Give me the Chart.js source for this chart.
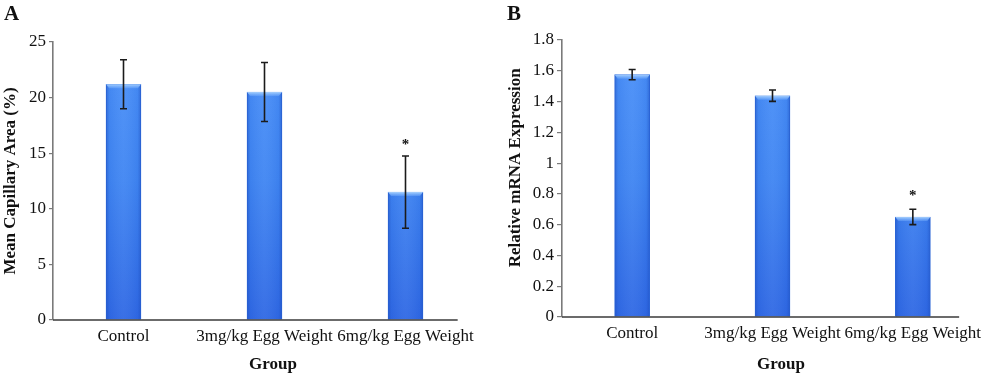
<!DOCTYPE html>
<html>
<head>
<meta charset="utf-8">
<script src="https://cdn.jsdelivr.net/npm/chart.js@4.4.0/dist/chart.umd.min.js"></script>
<style>
  html, body { margin: 0; padding: 0; background: #ffffff; }
  #wrap { position: relative; width: 1000px; height: 375px; overflow: hidden; background: #fff; }
  .panel { position: absolute; top: 0; height: 375px; }
  .letter { position: absolute; font-family: "Liberation Serif", serif; font-weight: bold; font-size: 21px; color: #111; }
</style>
</head>
<body>
<div id="wrap">
  <div class="panel" style="left:0;width:490px;"><canvas id="chartA" width="490" height="375"></canvas></div>
  <div class="panel" style="left:490px;width:510px;"><canvas id="chartB" width="510" height="375"></canvas></div>
  <div class="letter" style="left:4px;top:1px;">A</div>
  <div class="letter" style="left:507px;top:1px;">B</div>
</div>
<script>
// ---------- data ----------
const categories = ['Control', '3mg/kg Egg Weight', '6mg/kg Egg Weight'];

const capillaryArea = [21.2, 20.5, 11.5];
const capillaryErr  = [2.2, 2.65, 3.25];
const capillaryTicks = [0, 5, 10, 15, 20, 25];

const mrnaExpression = [1.575, 1.438, 0.65];
const mrnaErr        = [0.033, 0.037, 0.05];
const mrnaTicks = [0, 0.2, 0.4, 0.6, 0.8, 1, 1.2, 1.4, 1.6, 1.8];
const mrnaTickLabels = ['0', '0.2', '0.4', '0.6', '0.8', '1', '1.2', '1.4', '1.6', '1.8'];

const significance = ['', '', '*'];

const yTitleA = 'Mean Capillary Area (%)';
const yTitleB = '     Relative mRNA Expression';
const xTitle = '    Group';

// ---------- styles ----------
const tickFont = { family: '"Liberation Serif", serif', size: 17 };
const xTickFont = { family: '"Liberation Serif", serif', size: 17 };
const titleFont = { family: '"Liberation Serif", serif', size: 17, weight: 'bold' };

function barGradient(ctx) {
  const chart = ctx.chart;
  const area = chart.chartArea;
  if (!area) return '#3f86f2';
  const g = chart.ctx.createLinearGradient(0, area.top, 0, area.bottom);
  g.addColorStop(0, '#4b91f9');
  g.addColorStop(0.5, '#3f85f2');
  g.addColorStop(1, '#2f68e4');
  return g;
}

// plugin: bar shading, error bars, significance marks, x-axis line
const decorPlugin = {
  id: 'decor',
  afterDatasetsDraw(chart, args, opts) {
    const ctx = chart.ctx;
    const meta = chart.getDatasetMeta(0);
    const ys = chart.scales.y;
    const xs = chart.scales.x;
    const values = chart.data.datasets[0].data;
    ctx.save();
    meta.data.forEach((bar, i) => {
      const left = bar.x - bar.width / 2;
      const right = bar.x + bar.width / 2;
      const top = bar.y;
      const bottom = bar.base;
      // side shading
      const hg = ctx.createLinearGradient(left, 0, right, 0);
      hg.addColorStop(0, 'rgba(25,70,180,0.45)');
      hg.addColorStop(0.1, 'rgba(25,70,180,0.08)');
      hg.addColorStop(0.5, 'rgba(255,255,255,0.05)');
      hg.addColorStop(0.9, 'rgba(25,70,180,0.08)');
      hg.addColorStop(1, 'rgba(25,70,180,0.45)');
      ctx.fillStyle = hg;
      ctx.fillRect(left, top, right - left, bottom - top);
      // top cap highlight
      const cg = ctx.createLinearGradient(0, top, 0, top + 4);
      cg.addColorStop(0, 'rgba(175,215,255,0.95)');
      cg.addColorStop(1, 'rgba(125,180,255,0.35)');
      ctx.fillStyle = cg;
      ctx.beginPath();
      ctx.moveTo(left, top);
      ctx.lineTo(right, top);
      ctx.lineTo(right - 3, top + 4);
      ctx.lineTo(left + 3, top + 4);
      ctx.closePath();
      ctx.fill();
      // error bar
      const v = values[i];
      const e = opts.errors[i];
      const yHi = ys.getPixelForValue(v + e);
      const yLo = ys.getPixelForValue(v - e);
      ctx.strokeStyle = '#1b1b1b';
      ctx.lineWidth = 1.6;
      ctx.beginPath();
      ctx.moveTo(bar.x, yHi); ctx.lineTo(bar.x, yLo);
      ctx.moveTo(bar.x - 3.5, yHi); ctx.lineTo(bar.x + 3.5, yHi);
      ctx.moveTo(bar.x - 3.5, yLo); ctx.lineTo(bar.x + 3.5, yLo);
      ctx.stroke();
      // significance
      if (opts.marks[i]) {
        ctx.fillStyle = '#111';
        ctx.font = 'bold 15px "Liberation Serif", serif';
        ctx.textAlign = 'center';
        ctx.textBaseline = 'middle';
        ctx.fillText(opts.marks[i], bar.x, yHi - opts.markGap);
      }
    });
    // x axis line
    const last = xs.getPixelForValue(categories.length - 1);
    const step = xs.getPixelForValue(1) - xs.getPixelForValue(0);
    ctx.strokeStyle = '#3a3a3a';
    ctx.lineWidth = 1.6;
    ctx.beginPath();
    ctx.moveTo(chart.chartArea.left, chart.chartArea.bottom);
    ctx.lineTo(last + step * opts.lineExtent, chart.chartArea.bottom);
    ctx.stroke();
    ctx.restore();
  }
};

function makeChart(id, values, errors, tickVals, tickLabels, yTitle, cfg) {
  return new Chart(document.getElementById(id), {
    type: 'bar',
    data: {
      labels: categories,
      datasets: [{
        data: values,
        backgroundColor: barGradient,
        borderColor: '#3170e4',
        borderWidth: 1,
        barThickness: 35,
        borderSkipped: 'bottom'
      }]
    },
    plugins: [decorPlugin],
    options: {
      responsive: false,
      animation: false,
      devicePixelRatio: 1,
      layout: { padding: cfg.padding },
      plugins: {
        legend: { display: false },
        tooltip: { enabled: false },
        decor: { errors: errors, marks: significance, lineExtent: cfg.lineExtent, markGap: cfg.markGap }
      },
      scales: {
        x: {
          grid: { display: false, drawTicks: false },
          border: { display: false },
          ticks: { font: xTickFont, color: '#111', padding: 6, maxRotation: 0, autoSkip: false },
          title: { display: true, text: xTitle, font: titleFont, color: '#111', padding: { top: 0, bottom: 0 } },
          afterFit(s) { s.height = cfg.xHeight; }
        },
        y: {
          min: tickVals[0],
          max: tickVals[tickVals.length - 1],
          afterBuildTicks(s) { s.ticks = tickVals.map(v => ({ value: v })); },
          grid: { display: true, drawOnChartArea: false, drawTicks: true, tickLength: cfg.tickLength, color: '#7a7a7a', lineWidth: 1.2 },
          border: { display: true, color: '#7a7a7a', width: 1.6 },
          ticks: {
            font: tickFont, color: '#111', padding: 3,
            callback(v, i) { return tickLabels[i]; }
          },
          title: { display: true, text: yTitle, font: titleFont, color: '#111', padding: { top: cfg.yTitlePad, bottom: 0 } },
          afterFit(s) { s.width = cfg.yWidth; }
        }
      }
    }
  });
}

makeChart('chartA', capillaryArea, capillaryErr, capillaryTicks, capillaryTicks.map(String), yTitleA, {
  padding: { left: 0, top: 42, right: 14, bottom: 0 },
  xHeight: 55, yWidth: 53, tickLength: 4, yTitlePad: 0, lineExtent: 0.37, markGap: 11
});

makeChart('chartB', mrnaExpression, mrnaErr, mrnaTicks, mrnaTickLabels, yTitleB, {
  padding: { left: 0, top: 40, right: 17, bottom: 0 },
  xHeight: 58, yWidth: 72, tickLength: 5, yTitlePad: 15, lineExtent: 0.33, markGap: 13
});
</script>
</body>
</html>
